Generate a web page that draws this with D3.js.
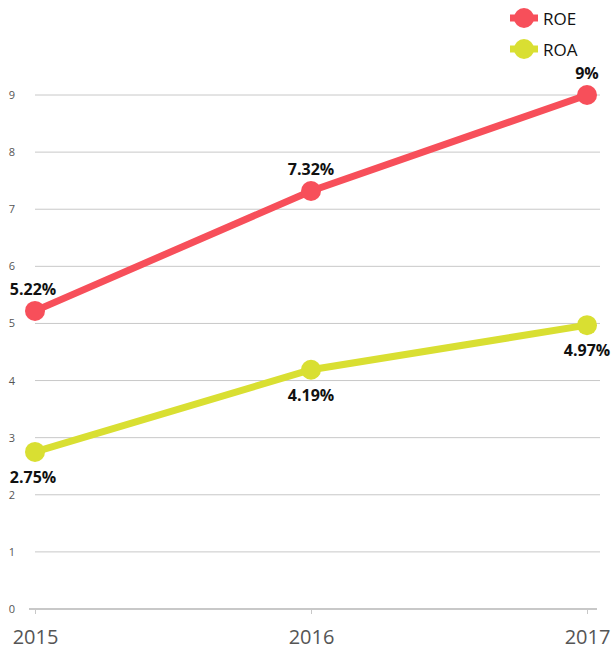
<!DOCTYPE html>
<html><head><meta charset="utf-8">
<script src="https://cdn.jsdelivr.net/npm/d3@7"></script>
<style>body{margin:0;background:#fff;}svg{display:block;font-family:"Open Sans",sans-serif;}</style>
</head><body>
<svg id="c" width="613" height="649"></svg>
<script>
const years = ["2015","2016","2017"];
const roe = [5.22, 7.32, 9];
const roa = [2.75, 4.19, 4.97];
const roeLabels = ["5.22%","7.32%","9%"];
const roaLabels = ["2.75%","4.19%","4.97%"];
const yTicks = [0,1,2,3,4,5,6,7,8,9];
const series = [
  {name:"ROE", values:roe, labels:roeLabels, color:"#f74f5a", pos:"above"},
  {name:"ROA", values:roa, labels:roaLabels, color:"#d9df32", pos:"below"}
];

const svg = d3.select("#c");
const x = d3.scalePoint().domain(years).range([35, 587]);
const y = d3.scaleLinear().domain([0, 9]).range([609, 95]);

// grid
svg.append("g").selectAll("line").data(yTicks.filter(d=>d>0)).join("line")
  .attr("x1", 35).attr("x2", 600)
  .attr("y1", d=>y(d)).attr("y2", d=>y(d))
  .attr("stroke", "#c8c8c8").attr("stroke-width", 1);
svg.append("g").selectAll("text").data(yTicks).join("text")
  .attr("x", 12).attr("y", d=>y(d)+4)
  .attr("text-anchor","middle").attr("font-size", 11).attr("fill","#555")
  .text(d=>d);

// x axis
const xa = svg.append("g").attr("transform", `translate(0,${y(0)})`)
  .call(d3.axisBottom(x).tickSize(5).tickSizeOuter(0));
xa.select(".domain").attr("stroke","#c8c8c8").attr("stroke-width",2).attr("d","M29,0H597");
xa.selectAll(".tick line").attr("stroke","#c8c8c8");
xa.selectAll(".tick text").attr("font-size", 20).attr("fill","#555")
  .attr("font-family","'Open Sans',sans-serif").attr("dy", 0).attr("y", 35);

const line = d3.line().x((d,i)=>x(years[i])).y(d=>y(d));
series.forEach(s=>{
  svg.append("path").attr("d", line(s.values)).attr("fill","none")
    .attr("stroke", s.color).attr("stroke-width", 7);
  svg.append("g").selectAll("circle").data(s.values).join("circle")
    .attr("cx",(d,i)=>x(years[i])).attr("cy", d=>y(d)).attr("r", 10).attr("fill", s.color);
  svg.append("g").selectAll("text").data(s.values).join("text")
    .attr("x",(d,i)=>x(years[i]) - (i===0?2:0)).attr("y", d=> s.pos==="above" ? y(d)-16 : y(d)+31)
    .attr("text-anchor","middle").attr("font-size", 16).attr("font-weight","bold").attr("fill","#111")
    .text((d,i)=>s.labels[i]);
});

// legend
const lg = svg.append("g");
series.forEach((s,i)=>{
  const cy = 18 + i*31;
  lg.append("line").attr("x1", 510).attr("x2", 538).attr("y1", cy).attr("y2", cy)
    .attr("stroke", s.color).attr("stroke-width", 7);
  lg.append("circle").attr("cx", 524).attr("cy", cy).attr("r", 10).attr("fill", s.color);
  lg.append("text").attr("x", 543).attr("y", cy+7).attr("font-size", 17).attr("fill","#111").text(s.name);
});
</script>
</body></html>
